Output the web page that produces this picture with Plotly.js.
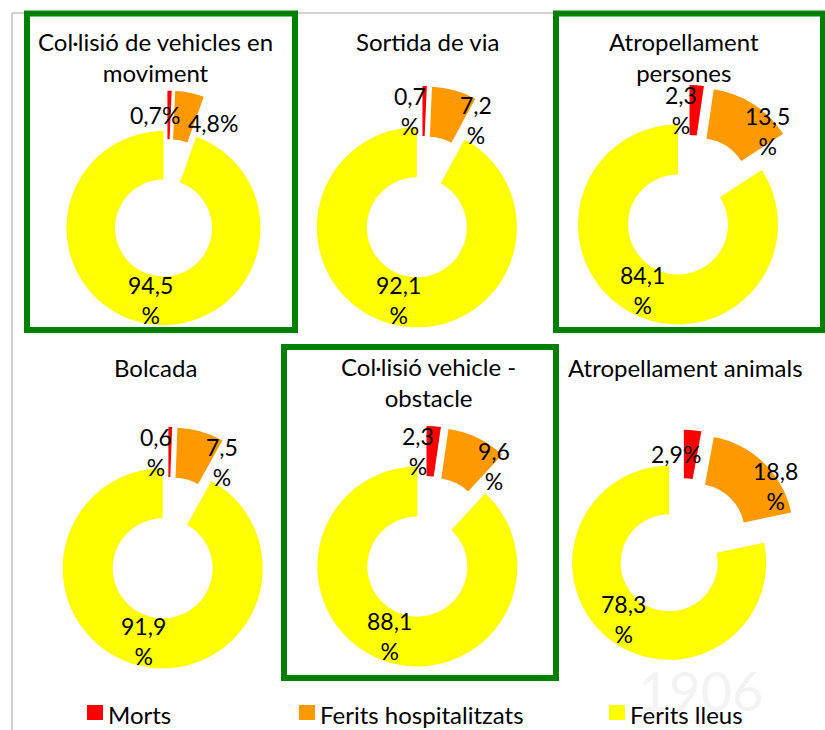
<!DOCTYPE html>
<html><head><meta charset="utf-8">
<script src="https://cdn.plot.ly/plotly-3.0.1.min.js"></script>
<style>html,body{margin:0;padding:0;background:#fff}</style>
</head><body><div id="chart" style="width:825px;height:730px"></div>
<script>
// ---- data ----
const categories = ['Morts', 'Ferits hospitalitzats', 'Ferits lleus'];
const panelTitles = ['Col·lisió de vehicles en<br>moviment', 'Sortida de via', 'Atropellament<br>persones',
                     'Bolcada', 'Col·lisió vehicle -<br>obstacle', 'Atropellament animals'];
const morts       = [0.7, 0.7, 2.3, 0.6, 2.3, 2.9];
const feritsHosp  = [4.8, 7.2, 13.5, 7.5, 9.6, 18.8];
const feritsLleus = [94.5, 92.1, 84.1, 91.9, 88.1, 78.3];
// label wrapping as in the original (true = "%" on second line)
const labelWrap = [[false,false,true],[true,true,true],[true,true,true],[true,true,true],[true,true,true],[false,true,true]];

// ---- layout / style ----
const W = 825, H = 730;
const colors = ['#FF0000', '#FF9900', '#FFFF00'];
const FONT = 'Lato, "Open Sans", sans-serif';
const TITLE_SIZE = 24, LABEL_SIZE = 23, LEGEND_SIZE = 24;
const PULL = 0.21, HOLE = 0.5;
const panels = [
  {cx:167, cy:208, r:97,  tx:155, ty:57},
  {cx:422, cy:207, r:100, tx:427, ty:42},
  {cx:688, cy:206, r:100, tx:684, ty:57},
  {cx:168, cy:548, r:100, tx:155, ty:367},
  {cx:425, cy:547, r:100, tx:428, ty:382},
  {cx:682, cy:547, r:97,  tx:685, ty:367}
];
const boxes = [[27,13.5,295,330],[556,13.5,823,330],[284,347,556,678]];
const labelDx = [-14, 28, 0], labelDy = [0, 6, 0];
const legendX = [87, 299, 609];

const px = x => x / W, py = y => 1 - y / H;
const fmt = (v, wrap) => v.toFixed(1).replace('.', ',') + (wrap ? '<br>%' : '%');

const traces = [], annotations = [], shapes = [];

// faint watermark of the source document
annotations.push({text:'1906', x:px(700), y:py(690), xref:'paper', yref:'paper', showarrow:false,
  font:{family:FONT, size:54, color:'#f3f3f3'}, xanchor:'center', yanchor:'middle'});

panels.forEach((p, i) => {
  const vals = [morts[i], feritsHosp[i], feritsLleus[i]];
  const s = p.r * (1 + PULL);
  traces.push({
    type:'pie', values: vals, labels: categories, sort:false, direction:'clockwise', rotation:0,
    hole: HOLE, pull:[PULL, PULL, PULL], textinfo:'none', hoverinfo:'label+value',
    marker:{colors: colors, line:{width:0}}, showlegend:false,
    domain:{x:[px(p.cx - s), px(p.cx + s)], y:[py(p.cy + s), py(p.cy - s)]}
  });
  // data labels positioned from slice geometry
  const tot = vals.reduce((a, b) => a + b, 0);
  let cum = 0;
  vals.forEach((v, k) => {
    const mid = (cum + v / 2) / tot * 2 * Math.PI; cum += v;
    const pcx = p.cx + PULL * p.r * Math.sin(mid), pcy = p.cy - PULL * p.r * Math.cos(mid);
    const rm = p.r * (1 + HOLE) / 2;
    const sx = pcx + rm * Math.sin(mid) + labelDx[k], sy = pcy - rm * Math.cos(mid) + labelDy[k];
    annotations.push({text: fmt(v, labelWrap[i][k]), x:px(sx), y:py(sy), xref:'paper', yref:'paper',
      showarrow:false, xanchor:'center', yanchor:'middle',
      font:{family:FONT, size:LABEL_SIZE, color:'#000'}});
  });
  annotations.push({text: panelTitles[i], x:px(p.tx), y:py(p.ty), xref:'paper', yref:'paper',
    showarrow:false, xanchor:'center', yanchor:'middle', font:{family:FONT, size:TITLE_SIZE, color:'#000'}});
});

// outer light border
shapes.push({type:'line', xref:'paper', yref:'paper', x0:px(12), x1:px(12), y0:py(13), y1:py(730), line:{color:'#d0d0d0', width:2}});
shapes.push({type:'line', xref:'paper', yref:'paper', x0:px(12), x1:px(825), y0:py(13), y1:py(13), line:{color:'#d0d0d0', width:2}});
// green highlight boxes
boxes.forEach(b => shapes.push({type:'rect', xref:'paper', yref:'paper', x0:px(b[0]), x1:px(b[2]), y0:py(b[3]), y1:py(b[1]),
  line:{color:'#008000', width:6}, fillcolor:'rgba(0,0,0,0)'}));

// legend
categories.forEach((c, k) => {
  shapes.push({type:'rect', xref:'paper', yref:'paper', x0:px(legendX[k]), x1:px(legendX[k] + 16), y0:py(720), y1:py(705),
    fillcolor: colors[k], line:{width:0}});
  annotations.push({text:c, x:px(legendX[k] + 19), y:py(714), xref:'paper', yref:'paper', showarrow:false,
    xanchor:'left', yanchor:'middle', font:{family:FONT, size:LEGEND_SIZE, color:'#000'}});
});

Plotly.newPlot('chart', traces, {
  width:W, height:H, margin:{l:0, r:0, t:0, b:0}, paper_bgcolor:'#fff', showlegend:false,
  annotations: annotations, shapes: shapes
}, {displayModeBar:false, staticPlot:true});
</script></body></html>
